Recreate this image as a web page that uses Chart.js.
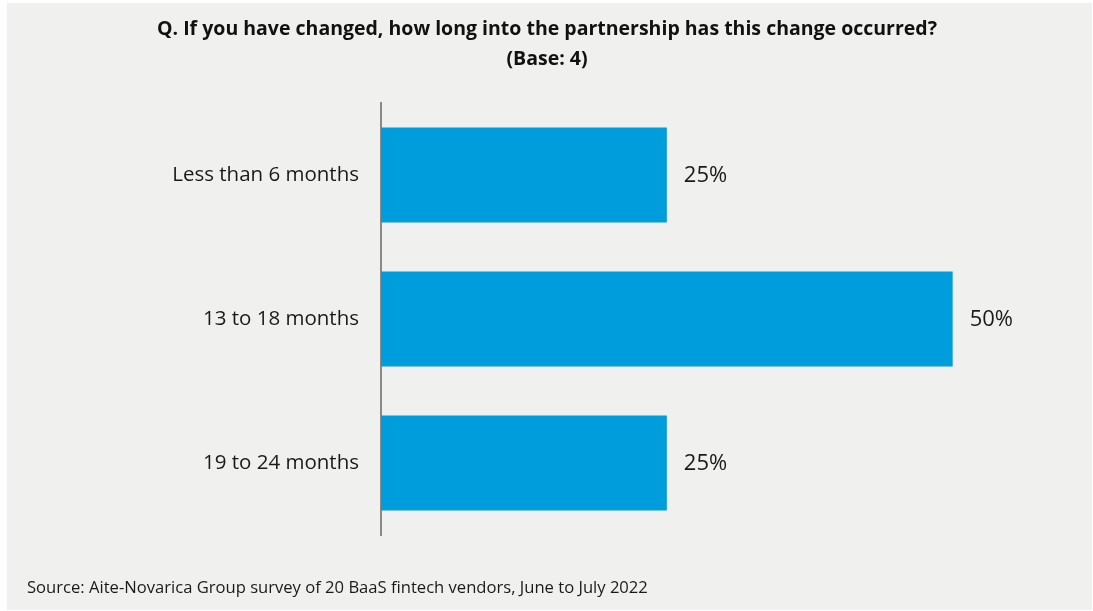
<!DOCTYPE html>
<html>
<head>
<meta charset="utf-8">
<script src="https://cdn.jsdelivr.net/npm/chart.js@4"></script>
<style>
  html, body { margin: 0; padding: 0; background: #ffffff; }
  #wrap { width: 1093px; height: 611px; }
</style>
</head>
<body>
<div id="wrap"><canvas id="changeChart"></canvas></div>
<script>
// survey answers
const categories = ['Less than 6 months', '13 to 18 months', '19 to 24 months'];
const shares = [25, 50, 25];

const titleLines = [
    'Q. If you have changed, how long into the partnership has this change occurred?',
    '(Base: 4)'
];
const sourceNote = 'Source: Aite-Novarica Group survey of 20 BaaS fintech vendors, June to July 2022';

// grey panel behind everything
const panelBg = {
    id: 'panelBg',
    beforeDraw(chart) {
        const ctx = chart.ctx;
        ctx.save();
        ctx.fillStyle = '#ffffff';
        ctx.fillRect(0, 0, chart.width, chart.height);
        ctx.fillStyle = '#f0f0ef';
        ctx.fillRect(7, 3, chart.width - 8, chart.height - 4);
        ctx.restore();
    }
};

// percent labels to the right of each bar
const valueLabels = {
    id: 'valueLabels',
    afterDatasetsDraw(chart) {
        const ctx = chart.ctx;
        const meta = chart.getDatasetMeta(0);
        ctx.save();
        ctx.font = '22px "Open Sans", sans-serif';
        ctx.fillStyle = '#1a1a1a';
        ctx.textAlign = 'left';
        ctx.textBaseline = 'middle';
        meta.data.forEach((bar, i) => {
            ctx.fillText(shares[i] + '%', bar.x + 17, bar.y + 1);
        });
        ctx.restore();
    }
};

const ctx = document.getElementById('changeChart').getContext('2d');
new Chart(ctx, {
    type: 'bar',
    data: {
        labels: categories,
        datasets: [{
            data: shares,
            backgroundColor: '#009ddc',
            borderWidth: 0,
            categoryPercentage: 0.66,
            barPercentage: 1.0
        }]
    },
    options: {
        indexAxis: 'y',
        responsive: true,
        maintainAspectRatio: false,
        animation: false,
        layout: {
            padding: { left: 27, right: 26, top: 0, bottom: 0 }
        },
        scales: {
            x: {
                display: false,
                min: 0,
                max: 60
            },
            y: {
                afterFit(scale) { scale.width = 354; },
                grid: { display: false, drawTicks: false },
                border: { display: true, color: '#8a8a8a', width: 2 },
                ticks: {
                    padding: 22,
                    color: '#1a1a1a',
                    font: { family: '"Open Sans", sans-serif', size: 20.5 }
                }
            }
        },
        plugins: {
            legend: { display: false },
            tooltip: { enabled: false },
            title: {
                display: true,
                text: titleLines,
                color: '#111111',
                font: { family: '"Open Sans", sans-serif', size: 19.5, weight: 'bold', lineHeight: 1.54 },
                padding: { top: 14, bottom: 29 }
            },
            subtitle: {
                display: true,
                position: 'bottom',
                align: 'start',
                text: sourceNote,
                color: '#1a1a1a',
                font: { family: '"Open Sans", sans-serif', size: 16.6, lineHeight: 1.2 },
                padding: { top: 43, bottom: 13 }
            }
        }
    },
    plugins: [panelBg, valueLabels]
});
</script>
</body>
</html>
